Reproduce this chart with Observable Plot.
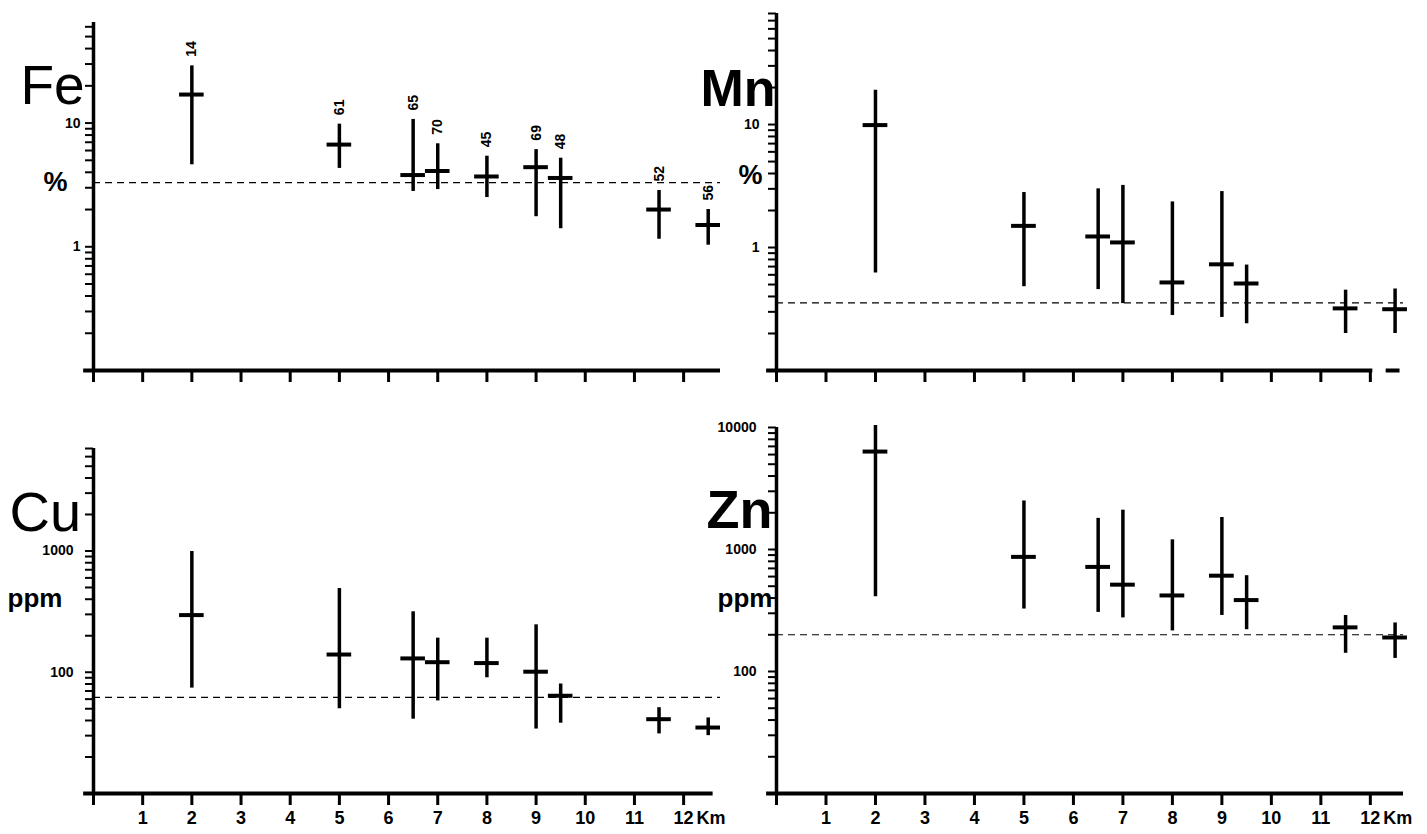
<!DOCTYPE html>
<html>
<head>
<meta charset="utf-8">
<script src="https://cdn.jsdelivr.net/npm/d3@7"></script>
<script src="https://cdn.jsdelivr.net/npm/@observablehq/plot@0.6"></script>
<style>
  html, body { margin: 0; padding: 0; background: #fff; }
  #chart { position: relative; width: 1427px; height: 834px; overflow: hidden; background: #fff; }
  .panel { position: absolute; }
</style>
</head>
<body>
<div id="chart"></div>
<script>
// ---- data (distance in km; values per element) ----
const distanceKm = [2, 5, 6.5, 7, 8, 9, 9.5, 11.5, 12.5];

const feMean = [17, 6.7, 3.8, 4.1, 3.7, 4.4, 3.6, 2.0, 1.5];
const feMin  = [4.6, 4.3, 2.8, 2.9, 2.5, 1.75, 1.4, 1.15, 1.03];
const feMax  = [29, 9.8, 10.7, 6.8, 5.4, 6.1, 5.2, 2.85, 2.0];
const feCount = [14, 61, 65, 70, 45, 69, 48, 52, 56];
const feBackground = 3.3;

const mnMean = [9.9, 1.5, 1.23, 1.1, 0.52, 0.73, 0.51, 0.32, 0.315];
const mnMin  = [0.62, 0.48, 0.455, 0.35, 0.28, 0.27, 0.24, 0.2, 0.2];
const mnMax  = [19, 2.8, 3.0, 3.2, 2.35, 2.85, 0.72, 0.45, 0.46];
const mnBackground = 0.355;

const cuMean = [296, 140, 130, 121, 119, 101, 64, 41, 35];
const cuMin  = [74, 50, 41, 58, 90, 34, 38, 31, 30];
const cuMax  = [990, 490, 315, 191, 191, 246, 80, 51, 42];
const cuBackground = 62;

const znMean = [6350, 870, 720, 515, 420, 610, 385, 230, 190];
const znMin  = [410, 325, 305, 275, 215, 288, 220, 141, 128];
const znMax  = [10400, 2500, 1800, 2100, 1200, 1830, 610, 288, 250];
const znBackground = 200;

const xTickValues = [0, 1, 2, 3, 4, 5, 6, 7, 8, 9, 10, 11, 12];
const xTickLabels = [1, 2, 3, 4, 5, 6, 7, 8, 9, 10, 11, 12];
const feYLabels = [1, 10];
const mnYLabels = [1, 10];
const cuYLabels = [100, 1000];
const znYLabels = [100, 1000, 10000];

// ---- helpers ----
function rows(mean, lo, hi, n) {
  return distanceKm.map((x, i) => ({x, mean: mean[i], lo: lo[i], hi: hi[i], n: n ? n[i] : null}));
}
function logTicks(lo, hi) {
  const t = [];
  for (let e = Math.floor(Math.log10(lo)); e <= Math.ceil(Math.log10(hi)); e++) {
    for (let m = 1; m <= 9; m++) {
      const v = m * Math.pow(10, e);
      if (v >= lo * 0.999 && v <= hi * 1.001) t.push(v);
    }
  }
  return t;
}

const SANS = "'Liberation Sans', Arial, Helvetica, sans-serif";

function panel(cfg) {
  const data = rows(cfg.mean, cfg.lo, cfg.hi, cfg.n);
  const marks = [
    // background (dashed) level
    Plot.ruleY([cfg.ref], {x1: 0, x2: cfg.xMax, stroke: "#000", strokeWidth: 1.2, strokeDasharray: "7,5"}),
    // y axis ticks
    Plot.axisY(logTicks(cfg.yDomain[0], cfg.yDomain[1]), {
      anchor: "left", tickSize: 8, strokeWidth: 2, stroke: "#000", tickFormat: () => "", label: null
    }),
    // y tick labels
    Plot.text(cfg.yLabels, {y: d => d, frameAnchor: "left", dx: cfg.labelDx, textAnchor: "end", lineAnchor: "middle",
      text: d => d3.format("d")(d), fontSize: 14, fontWeight: "bold", fontFamily: SANS, fill: "#000"}),
    // y axis line
    Plot.ruleX([0], {stroke: "#000", strokeWidth: 3.5}),
    // x axis line
    Plot.ruleY([cfg.yDomain[0]], {x1: -0.2, x2: cfg.xAxisEnd, stroke: "#000", strokeWidth: 4}),
    // x axis ticks
    Plot.axisX(xTickValues, {
      anchor: "bottom", tickSize: 12, strokeWidth: 3, stroke: "#000", tickFormat: () => "", label: null
    }),
    // ranges
    Plot.ruleX(data, {x: "x", y1: "lo", y2: "hi", stroke: "#000", strokeWidth: 3.5}),
    // means
    Plot.ruleY(data, {y: "mean", x1: d => d.x - 0.25, x2: d => d.x + 0.25, stroke: "#000", strokeWidth: 4}),
    // element symbol and unit
    Plot.text([cfg.el], {frameAnchor: "top-left", dx: cfg.elDx, dy: cfg.elDy, textAnchor: cfg.anchor,
      lineAnchor: "bottom", fontSize: cfg.elSize, fontWeight: cfg.elWeight, fontFamily: SANS, fill: "#000"}),
    Plot.text([cfg.unit], {frameAnchor: "top-left", dx: cfg.unitDx, dy: cfg.unitDy, textAnchor: cfg.anchor,
      lineAnchor: "bottom", fontSize: cfg.unitSize, fontWeight: "bold", fontFamily: SANS, fill: "#000"})
  ];
  if (cfg.n) {
    marks.push(Plot.text(data, {x: "x", y: "hi", text: d => String(d.n), rotate: -90, textAnchor: "start",
      lineAnchor: "middle", dy: -9, fontSize: 14, fontWeight: 600, fontFamily: SANS, fill: "#000"}));
  }
  if (cfg.showX) {
    marks.push(Plot.text(xTickLabels, {x: d => d, frameAnchor: "bottom", dy: 18, lineAnchor: "top",
      text: d => String(d), fontSize: 18, fontWeight: "bold", fontFamily: SANS, fill: "#000"}));
    marks.push(Plot.text(["Km"], {x: 12, frameAnchor: "bottom", dx: 13, dy: 18, textAnchor: "start",
      lineAnchor: "top", fontSize: 18, fontWeight: "bold", fontFamily: SANS, fill: "#000"}));
  }
  if (cfg.extra) marks.push(...cfg.extra);
  const svg = Plot.plot({
    width: cfg.width, height: cfg.height,
    marginLeft: cfg.ml, marginRight: cfg.mr, marginTop: cfg.mt, marginBottom: cfg.mb,
    x: {domain: [0, cfg.xMax], axis: null},
    y: {type: "log", domain: cfg.yDomain, axis: null},
    style: {background: "transparent", overflow: "visible", color: "#000"},
    marks
  });
  const wrap = document.createElement("div");
  wrap.className = "panel";
  wrap.style.left = cfg.left + "px";
  wrap.style.top = cfg.top + "px";
  wrap.appendChild(svg);
  document.getElementById("chart").appendChild(wrap);
}

// Fe (top-left)
panel({el: "Fe", unit: "%", mean: feMean, lo: feMin, hi: feMax, n: feCount, ref: feBackground,
  yDomain: [0.1, 65], yLabels: feYLabels, showX: false, labelDx: -13,
  left: 0, top: 0, width: 730, height: 417, ml: 93, mr: 10, mt: 22, mb: 47, xMax: 12.75, xAxisEnd: 12.75,
  anchor: "start", elDx: -73, elDy: 81, elSize: 55, elWeight: "normal", unitDx: -50, unitDy: 168, unitSize: 27});

// Mn (top-right)
panel({el: "Mn", unit: "%", mean: mnMean, lo: mnMin, hi: mnMax, ref: mnBackground,
  yDomain: [0.1, 80], yLabels: mnYLabels, showX: false, labelDx: -17,
  left: 700, top: 0, width: 727, height: 417, ml: 76, mr: 24, mt: 13, mb: 47, xMax: 12.67, xAxisEnd: 12.05,
  anchor: "end", elDx: -1, elDy: 92, elSize: 52, elWeight: "bold", unitDx: -14, unitDy: 170, unitSize: 27,
  extra: [Plot.ruleY([0.1], {x1: 12.32, x2: 12.6, stroke: "#000", strokeWidth: 4})]});

// Cu (bottom-left)
panel({el: "Cu", unit: "ppm", mean: cuMean, lo: cuMin, hi: cuMax, ref: cuBackground,
  yDomain: [10, 7000], yLabels: cuYLabels, showX: true, labelDx: -20,
  left: 0, top: 417, width: 730, height: 417, ml: 93, mr: 10, mt: 31, mb: 41, xMax: 12.75, xAxisEnd: 12.6,
  anchor: "start", elDx: -84, elDy: 82, elSize: 56, elWeight: "normal", unitDx: -86, unitDy: 158, unitSize: 26});

// Zn (bottom-right)
panel({el: "Zn", unit: "ppm", mean: znMean, lo: znMin, hi: znMax, ref: znBackground,
  yDomain: [10, 10000], yLabels: znYLabels, showX: true, labelDx: -20,
  left: 700, top: 417, width: 727, height: 417, ml: 76, mr: 24, mt: 10, mb: 41, xMax: 12.67, xAxisEnd: 12.67,
  anchor: "end", elDx: -4, elDy: 100, elSize: 54, elWeight: "bold", unitDx: -4, unitDy: 179, unitSize: 26});
</script>
</body>
</html>
